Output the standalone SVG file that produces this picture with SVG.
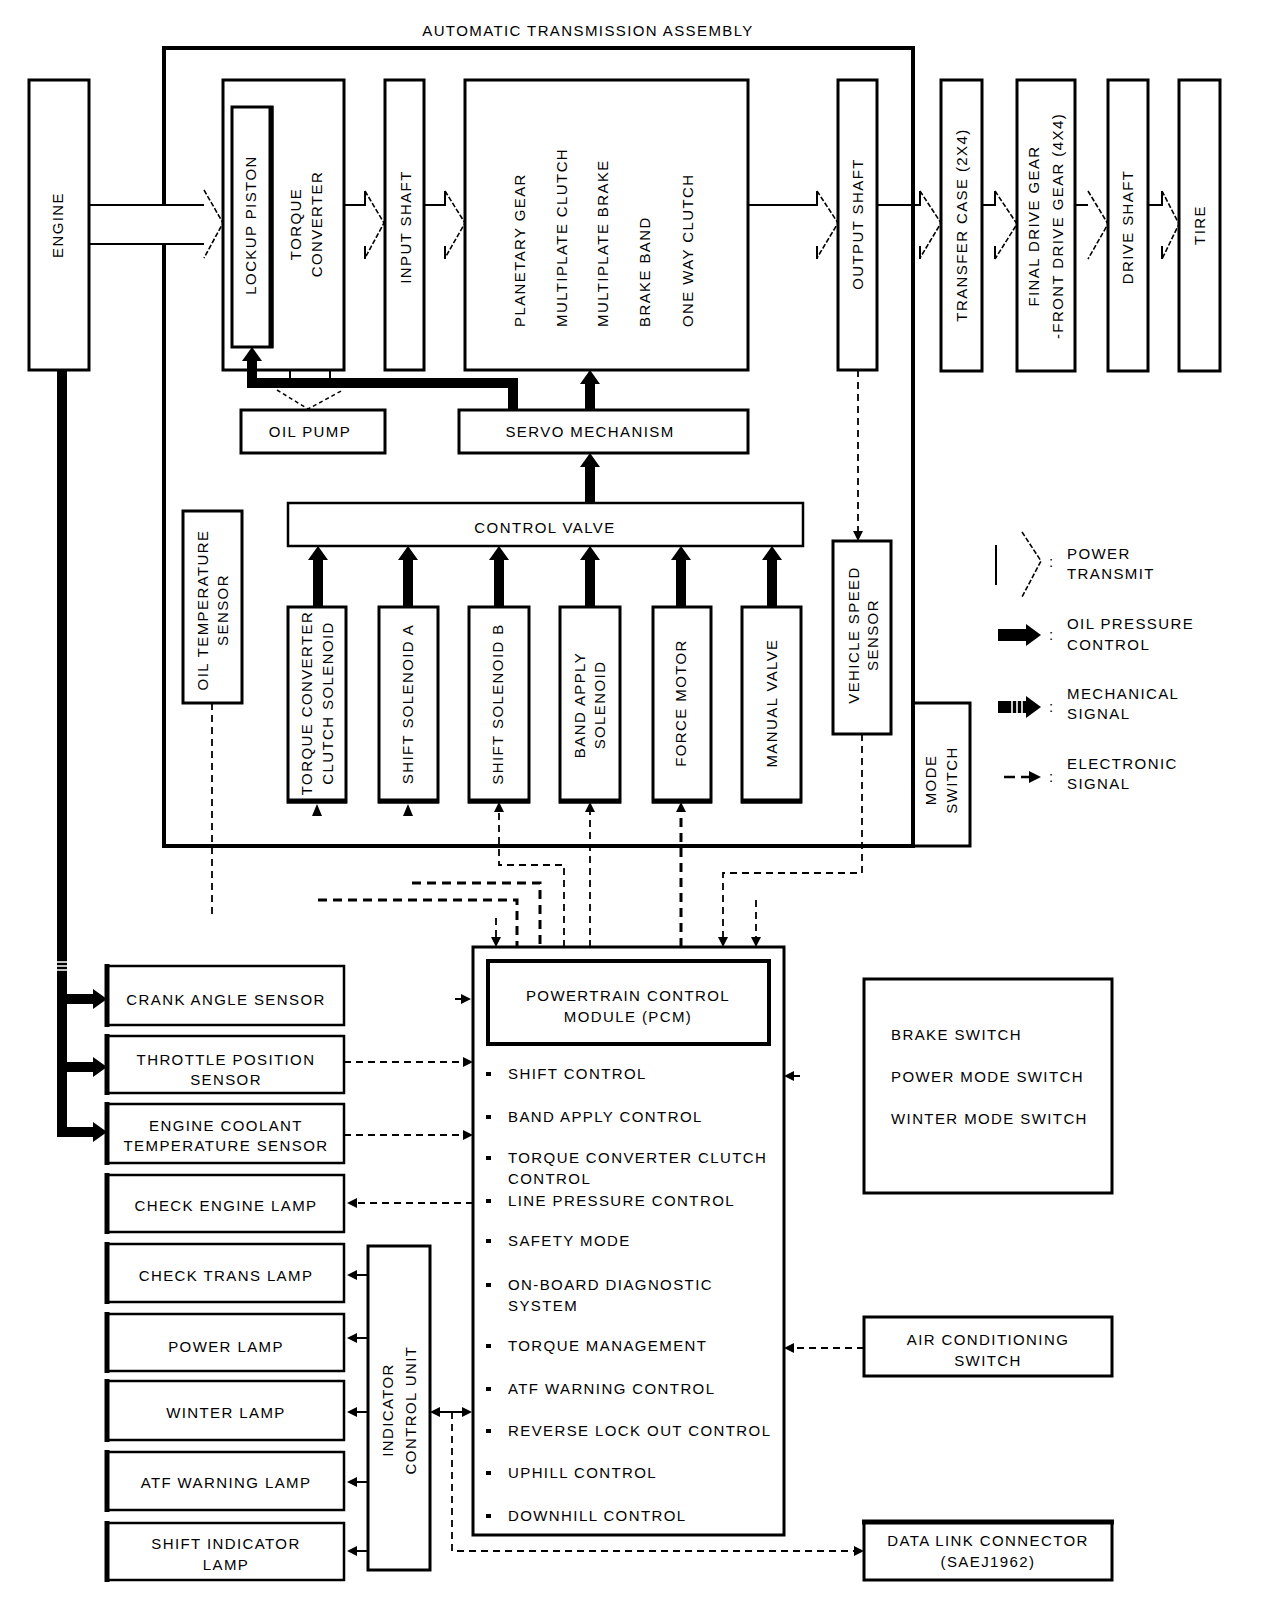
<svg xmlns="http://www.w3.org/2000/svg" width="1280" height="1598" viewBox="0 0 1280 1598">
<defs>
<style>
text{font-family:"Liberation Sans",Arial,sans-serif;font-size:15px;letter-spacing:1.4px;fill:#000}
.c{text-anchor:middle}
.b{fill:#fff;stroke:#000;stroke-width:3}
.bl{fill:#fff;stroke:#000;stroke-width:2.5}
.thin{fill:none;stroke:#000;stroke-width:2}
.sl{fill:none;stroke:#000;stroke-width:2}
.d{fill:none;stroke:#000;stroke-width:1.8;stroke-dasharray:7 5}
.dk{fill:none;stroke:#000;stroke-width:3;stroke-dasharray:9 6}
.oil{fill:none;stroke:#000;stroke-width:10}
.pt{fill:none;stroke:#000;stroke-width:1.6;stroke-dasharray:5 2}
.edge{fill:none;stroke:#000;stroke-width:5}
</style>
<marker id="ah" markerUnits="userSpaceOnUse" viewBox="0 0 10 10" refX="0" refY="5" markerWidth="10" markerHeight="10" orient="auto"><path d="M0,0 L10,5 L0,10 z" fill="#000"/></marker>
<marker id="oh" markerUnits="userSpaceOnUse" viewBox="0 0 14 20" refX="0" refY="10" markerWidth="14" markerHeight="20" orient="auto"><path d="M0,0 L14,10 L0,20 z" fill="#000"/></marker>
</defs>
<rect width="1280" height="1598" fill="#fff"/>

<g id="assembly">
<path d="M164,205 V48 H913 V846 H164 V244" fill="none" stroke="#000" stroke-width="4"/>
<text class="c" x="588" y="36">AUTOMATIC TRANSMISSION ASSEMBLY</text>
</g>

<g id="engine">
<rect class="b" x="29" y="80" width="60" height="290"/>
<text class="c" transform="translate(58,225) rotate(-90)" dy="5.4">ENGINE</text>
</g>

<g id="torque-converter">
<rect class="b" x="223" y="80" width="121" height="290"/>
<text class="c" transform="translate(296,224) rotate(-90)" dy="5.4">TORQUE</text>
<text class="c" transform="translate(317,224) rotate(-90)" dy="5.4">CONVERTER</text>
</g>

<g id="lockup-piston">
<rect class="b" x="232" y="107" width="40" height="240"/>
<line class="edge" x1="271" y1="106" x2="271" y2="348"/>
<text class="c" transform="translate(251,225) rotate(-90)" dy="5.4">LOCKUP PISTON</text>
</g>

<g id="input-shaft">
<rect class="b" x="385" y="80" width="39" height="290"/>
<text class="c" transform="translate(406,227) rotate(-90)" dy="5.4">INPUT SHAFT</text>
</g>

<g id="planetary">
<rect class="b" x="465" y="80" width="283" height="290"/>
<text transform="translate(520,327) rotate(-90)" dy="5.4">PLANETARY GEAR</text>
<text transform="translate(562,327) rotate(-90)" dy="5.4">MULTIPLATE CLUTCH</text>
<text transform="translate(603,327) rotate(-90)" dy="5.4">MULTIPLATE BRAKE</text>
<text transform="translate(645,327) rotate(-90)" dy="5.4">BRAKE BAND</text>
<text transform="translate(688,327) rotate(-90)" dy="5.4">ONE WAY CLUTCH</text>
</g>

<g id="output-shaft">
<rect class="b" x="838" y="80" width="39" height="290"/>
<text class="c" transform="translate(858,224) rotate(-90)" dy="5.4">OUTPUT SHAFT</text>
</g>

<g id="transfer-case">
<rect class="b" x="941" y="80" width="41" height="291"/>
<text class="c" transform="translate(962,225) rotate(-90)" dy="5.4">TRANSFER CASE (2X4)</text>
</g>

<g id="final-drive">
<rect class="b" x="1017" y="80" width="58" height="291"/>
<text class="c" transform="translate(1034,226) rotate(-90)" dy="5.4">FINAL DRIVE GEAR</text>
<text class="c" transform="translate(1058,226) rotate(-90)" dy="5.4">-FRONT DRIVE GEAR (4X4)</text>
</g>

<g id="drive-shaft">
<rect class="b" x="1108" y="80" width="40" height="291"/>
<text class="c" transform="translate(1128,227) rotate(-90)" dy="5.4">DRIVE SHAFT</text>
</g>

<g id="tire">
<rect class="b" x="1179" y="80" width="41" height="291"/>
<text class="c" transform="translate(1200,225) rotate(-90)" dy="5.4">TIRE</text>
</g>

<g id="oil-pump">
<rect class="b" x="241" y="410" width="144" height="43"/>
<text class="c" x="310" y="437">OIL PUMP</text>
</g>

<g id="servo-mechanism">
<rect class="b" x="459" y="410" width="289" height="43"/>
<text class="c" x="590" y="437">SERVO MECHANISM</text>
</g>

<g id="control-valve">
<rect class="bl" x="288" y="503" width="515" height="43"/>
<text class="c" x="545" y="533">CONTROL VALVE</text>
</g>

<g id="oil-temp-sensor">
<rect class="b" x="183" y="511" width="59" height="192"/>
<text class="c" transform="translate(203,610) rotate(-90)" dy="5.4">OIL TEMPERATURE</text>
<text class="c" transform="translate(223,610) rotate(-90)" dy="5.4">SENSOR</text>
</g>

<g id="tcc-solenoid">
<rect class="b" x="288" y="607" width="58" height="195"/>
<line class="edge" x1="287" y1="801" x2="347" y2="801"/>
<text class="c" transform="translate(307,703) rotate(-90)" dy="5.4">TORQUE CONVERTER</text>
<text class="c" transform="translate(328,703) rotate(-90)" dy="5.4">CLUTCH SOLENOID</text>
</g>

<g id="shift-solenoid-a">
<rect class="b" x="379" y="607" width="59" height="195"/>
<line class="edge" x1="378" y1="801" x2="439" y2="801"/>
<text class="c" transform="translate(408,704) rotate(-90)" dy="5.4">SHIFT SOLENOID A</text>
</g>

<g id="shift-solenoid-b">
<rect class="b" x="469" y="607" width="60" height="195"/>
<line class="edge" x1="468" y1="801" x2="530" y2="801"/>
<text class="c" transform="translate(498,704) rotate(-90)" dy="5.4">SHIFT SOLENOID B</text>
</g>

<g id="band-apply-solenoid">
<rect class="b" x="560" y="607" width="60" height="195"/>
<line class="edge" x1="559" y1="801" x2="621" y2="801"/>
<text class="c" transform="translate(580,705) rotate(-90)" dy="5.4">BAND APPLY</text>
<text class="c" transform="translate(600,705) rotate(-90)" dy="5.4">SOLENOID</text>
</g>

<g id="force-motor">
<rect class="b" x="653" y="607" width="58" height="195"/>
<line class="edge" x1="652" y1="801" x2="712" y2="801"/>
<text class="c" transform="translate(681,703) rotate(-90)" dy="5.4">FORCE MOTOR</text>
</g>

<g id="manual-valve">
<rect class="b" x="742" y="607" width="59" height="195"/>
<line class="edge" x1="741" y1="801" x2="802" y2="801"/>
<text class="c" transform="translate(772,703) rotate(-90)" dy="5.4">MANUAL VALVE</text>
</g>

<g id="vehicle-speed-sensor">
<rect class="b" x="833" y="541" width="58" height="193"/>
<text class="c" transform="translate(854,635) rotate(-90)" dy="5.4">VEHICLE SPEED</text>
<text class="c" transform="translate(873,635) rotate(-90)" dy="5.4">SENSOR</text>
</g>

<g id="mode-switch">
<rect class="b" x="913" y="703" width="57" height="143"/>
<line x1="913" y1="703" x2="913" y2="846" stroke="#000" stroke-width="4"/>
<text class="c" transform="translate(931,780) rotate(-90)" dy="5.4">MODE</text>
<text class="c" transform="translate(952,780) rotate(-90)" dy="5.4">SWITCH</text>
</g>

<g id="legend">
<line x1="996" y1="545" x2="996" y2="585" stroke="#000" stroke-width="2"/>
<path class="pt" d="M1022,532 L1041,561 L1022,597"/>
<text x="1049" y="567">:</text>
<text x="1067" y="559">POWER</text>
<text x="1067" y="579">TRANSMIT</text>
<line x1="998" y1="635" x2="1027" y2="635" stroke="#000" stroke-width="12"/>
<path d="M1026,624 L1041,635 L1026,646 z" fill="#000"/>
<text x="1049" y="640">:</text>
<text x="1067" y="629">OIL PRESSURE</text>
<text x="1067" y="650">CONTROL</text>
<line x1="998" y1="707" x2="1027" y2="707" stroke="#000" stroke-width="12"/>
<path d="M1012,701 V713 M1017,701 V713 M1022,701 V713" stroke="#fff" stroke-width="1.6"/>
<path d="M1026,696 L1041,707 L1026,718 z" fill="#000"/>
<text x="1049" y="712">:</text>
<text x="1067" y="699">MECHANICAL</text>
<text x="1067" y="719">SIGNAL</text>
<line x1="1004" y1="777" x2="1015" y2="777" stroke="#000" stroke-width="2.5"/>
<line x1="1021" y1="777" x2="1030" y2="777" stroke="#000" stroke-width="2.5"/>
<path d="M1029,771 L1041,777 L1029,783 z" fill="#000"/>
<text x="1049" y="782">:</text>
<text x="1067" y="769">ELECTRONIC</text>
<text x="1067" y="789">SIGNAL</text>
</g>

<g id="pcm">
<rect class="b" x="473" y="947" width="311" height="588"/>
<rect x="488" y="961" width="281" height="83" fill="#fff" stroke="#000" stroke-width="4"/>
<text class="c" x="628" y="1001">POWERTRAIN CONTROL</text>
<text class="c" x="628" y="1022">MODULE (PCM)</text>
<g fill="#000">
<rect x="486" y="1072" width="5" height="4"/>
<rect x="486" y="1115" width="5" height="4"/>
<rect x="486" y="1156" width="5" height="4"/>
<rect x="486" y="1199" width="5" height="4"/>
<rect x="486" y="1239" width="5" height="4"/>
<rect x="486" y="1283" width="5" height="4"/>
<rect x="486" y="1344" width="5" height="4"/>
<rect x="486" y="1387" width="5" height="4"/>
<rect x="486" y="1429" width="5" height="4"/>
<rect x="486" y="1471" width="5" height="4"/>
<rect x="486" y="1514" width="5" height="4"/>
</g>
<text x="508" y="1079">SHIFT CONTROL</text>
<text x="508" y="1122">BAND APPLY CONTROL</text>
<text x="508" y="1163">TORQUE CONVERTER CLUTCH</text>
<text x="508" y="1184">CONTROL</text>
<text x="508" y="1206">LINE PRESSURE CONTROL</text>
<text x="508" y="1246">SAFETY MODE</text>
<text x="508" y="1290">ON-BOARD DIAGNOSTIC</text>
<text x="508" y="1311">SYSTEM</text>
<text x="508" y="1351">TORQUE MANAGEMENT</text>
<text x="508" y="1394">ATF WARNING CONTROL</text>
<text x="508" y="1436">REVERSE LOCK OUT CONTROL</text>
<text x="508" y="1478">UPHILL CONTROL</text>
<text x="508" y="1521">DOWNHILL CONTROL</text>
</g>

<g id="crank-angle-sensor">
<rect class="bl" x="107" y="966" width="237" height="59"/>
<line class="edge" x1="107" y1="964" x2="107" y2="1027"/>
<text class="c" x="226" y="1005">CRANK ANGLE SENSOR</text>
</g>
<g id="throttle-position-sensor">
<rect class="bl" x="107" y="1036" width="237" height="57"/>
<line class="edge" x1="107" y1="1034" x2="107" y2="1095"/>
<text class="c" x="226" y="1065">THROTTLE POSITION</text>
<text class="c" x="226" y="1085">SENSOR</text>
</g>
<g id="coolant-temp-sensor">
<rect class="bl" x="107" y="1104" width="237" height="59"/>
<line class="edge" x1="107" y1="1102" x2="107" y2="1165"/>
<text class="c" x="226" y="1131">ENGINE COOLANT</text>
<text class="c" x="226" y="1151">TEMPERATURE SENSOR</text>
</g>
<g id="check-engine-lamp">
<rect class="bl" x="107" y="1175" width="237" height="57"/>
<line class="edge" x1="107" y1="1173" x2="107" y2="1234"/>
<text class="c" x="226" y="1211">CHECK ENGINE LAMP</text>
</g>
<g id="check-trans-lamp">
<rect class="bl" x="107" y="1244" width="237" height="58"/>
<line class="edge" x1="107" y1="1242" x2="107" y2="1304"/>
<text class="c" x="226" y="1281">CHECK TRANS LAMP</text>
</g>
<g id="power-lamp">
<rect class="bl" x="107" y="1314" width="237" height="57"/>
<line class="edge" x1="107" y1="1312" x2="107" y2="1373"/>
<text class="c" x="226" y="1352">POWER LAMP</text>
</g>
<g id="winter-lamp">
<rect class="bl" x="107" y="1381" width="237" height="59"/>
<line class="edge" x1="107" y1="1379" x2="107" y2="1442"/>
<text class="c" x="226" y="1418">WINTER LAMP</text>
</g>
<g id="atf-warning-lamp">
<rect class="bl" x="107" y="1452" width="237" height="58"/>
<line class="edge" x1="107" y1="1450" x2="107" y2="1512"/>
<text class="c" x="226" y="1488">ATF WARNING LAMP</text>
</g>
<g id="shift-indicator-lamp">
<rect class="bl" x="107" y="1523" width="237" height="57"/>
<line class="edge" x1="107" y1="1521" x2="107" y2="1582"/>
<text class="c" x="226" y="1549">SHIFT INDICATOR</text>
<text class="c" x="226" y="1570">LAMP</text>
</g>

<g id="indicator-control-unit">
<rect class="b" x="368" y="1246" width="62" height="324"/>
<text class="c" transform="translate(388,1410) rotate(-90)" dy="5.4">INDICATOR</text>
<text class="c" transform="translate(411,1410) rotate(-90)" dy="5.4">CONTROL UNIT</text>
</g>

<g id="switches">
<rect class="b" x="864" y="979" width="248" height="214"/>
<text x="891" y="1040">BRAKE SWITCH</text>
<text x="891" y="1082">POWER MODE SWITCH</text>
<text x="891" y="1124">WINTER MODE SWITCH</text>
</g>

<g id="ac-switch">
<rect class="b" x="864" y="1317" width="248" height="59"/>
<text class="c" x="988" y="1345">AIR CONDITIONING</text>
<text class="c" x="988" y="1366">SWITCH</text>
</g>

<g id="data-link-connector">
<rect class="b" x="864" y="1522" width="248" height="58"/>
<line class="edge" x1="862" y1="1522" x2="1114" y2="1522"/>
<text class="c" x="988" y="1546">DATA LINK CONNECTOR</text>
<text class="c" x="988" y="1567">(SAEJ1962)</text>
</g>

<g id="connectors">
<!-- power transmit -->
<path class="thin" d="M89,205 H204 M89,244 H204"/>
<path class="pt" d="M204,190 L223,223 L204,258"/>
<path class="thin" d="M344,205 H365 V191 M365,246 V259"/>
<path class="pt" d="M365,191 L384,223 L365,258"/>
<path class="thin" d="M424,205 H445 V191 M445,246 V259"/>
<path class="pt" d="M445,191 L465,223 L445,258"/>
<path class="thin" d="M748,205 H817 V191 M817,246 V259"/>
<path class="pt" d="M817,191 L838,223 L817,258"/>
<path class="thin" d="M877,205 H920 V191 M920,246 V259"/>
<path class="pt" d="M920,191 L941,223 L920,258"/>
<path class="thin" d="M982,205 H995 V191 M995,246 V259"/>
<path class="pt" d="M995,191 L1017,224 L995,259"/>
<path class="thin" d="M1075,205 H1088"/>
<path class="pt" d="M1088,191 L1108,224 L1088,259"/>
<path class="thin" d="M1148,205 H1162 V191 M1162,246 V259"/>
<path class="pt" d="M1162,191 L1179,224 L1162,259"/>

<!-- oil pressure -->
<path class="oil" d="M513,410 V383 H252 V361" marker-end="url(#oh)"/>
<path class="thin" d="M290,370 V380 M330,370 V380"/>
<path d="M277,390 L308,409 L343,390" fill="none" stroke="#000" stroke-width="1.5" stroke-dasharray="4 3"/>
<path class="oil" d="M590,410 V384" marker-end="url(#oh)"/>
<path class="oil" d="M590,503 V467" marker-end="url(#oh)"/>
<path class="oil" d="M318,607 V560" marker-end="url(#oh)"/>
<path class="oil" d="M408,607 V560" marker-end="url(#oh)"/>
<path class="oil" d="M499,607 V560" marker-end="url(#oh)"/>
<path class="oil" d="M590,607 V560" marker-end="url(#oh)"/>
<path class="oil" d="M681,607 V560" marker-end="url(#oh)"/>
<path class="oil" d="M772,607 V560" marker-end="url(#oh)"/>

<!-- engine mechanical -->
<path class="oil" d="M62,370 V1132 H93" stroke-width="9" marker-end="url(#oh)"/>
<path class="oil" d="M62,999 H93" stroke-width="9" marker-end="url(#oh)"/>
<path class="oil" d="M62,1067 H93" stroke-width="9" marker-end="url(#oh)"/>
<path d="M56,962 H68 M56,966 H68 M56,970 H68" stroke="#fff" stroke-width="1.5"/>

<!-- electronic signals, upper -->
<path class="d" d="M858,370 V531" marker-end="url(#ah)"/>
<path class="d" d="M862,734 V873 H723 V937" marker-end="url(#ah)"/>
<path class="d" d="M212,703 V915"/>
<path class="dk" d="M318,900 H517 V947"/>
<path class="dk" d="M412,883 H540 V947"/>
<path class="d" d="M564,947 V865 H499 V812" marker-end="url(#ah)"/>
<path class="d" d="M590,947 V812" marker-end="url(#ah)"/>
<path class="dk" d="M681,947 V812" marker-end="url(#ah)"/>
<path class="d" d="M756,900 V937" marker-end="url(#ah)"/>
<path class="d" d="M496,918 V937" marker-end="url(#ah)"/>
<polygon points="312,816 317,804 322,816" fill="#000"/>
<polygon points="403,816 408,804 413,816" fill="#000"/>

<!-- electronic signals, lower -->
<path class="sl" d="M455,999 H461" marker-end="url(#ah)"/>
<path class="d" d="M344,1062 H463" marker-end="url(#ah)"/>
<path class="d" d="M344,1135 H463" marker-end="url(#ah)"/>
<path class="d" d="M473,1203 H357" marker-end="url(#ah)"/>
<path class="sl" d="M368,1275 H357" marker-end="url(#ah)"/>
<path class="sl" d="M368,1338 H357" marker-end="url(#ah)"/>
<path class="sl" d="M368,1412 H357" marker-end="url(#ah)"/>
<path class="sl" d="M368,1482 H357" marker-end="url(#ah)"/>
<path class="sl" d="M368,1551 H357" marker-end="url(#ah)"/>
<path class="sl" d="M452,1412 H440" marker-end="url(#ah)"/>
<path class="sl" d="M452,1412 H462" marker-end="url(#ah)"/>
<path class="d" d="M452,1412 V1551 H854" marker-end="url(#ah)"/>
<path class="sl" d="M800,1076 H794" marker-end="url(#ah)"/>
<path class="d" d="M864,1348 H794" marker-end="url(#ah)"/>
</g>
</svg>
